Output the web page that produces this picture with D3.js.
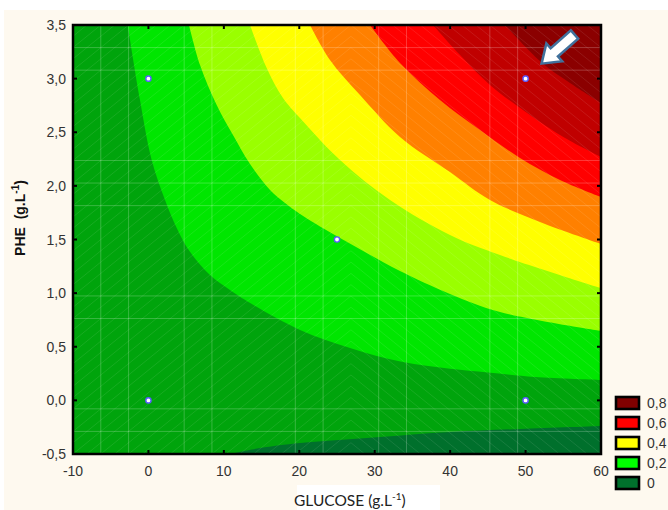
<!DOCTYPE html>
<html><head><meta charset="utf-8">
<script src="https://cdn.jsdelivr.net/npm/d3@7"></script>
<style>body{margin:0;background:#fff}svg{display:block}</style>
</head><body>
<svg id="chart" width="668" height="510"></svg>
<script>
// ---------- data ----------
const xTicks = [-10, 0, 10, 20, 30, 40, 50, 60];
const yTicks = [-0.5, 0, 0.5, 1, 1.5, 2, 2.5, 3, 3.5];
const yTickLabels = ["-0,5","0,0","0,5","1,0","1,5","2,0","2,5","3,0","3,5"];
// band colours from lowest to highest response
const bandColors = ["#00702c","#00a40c","#00e600","#9aff00","#ffff00","#ff8000","#ff0000","#c00000","#8b0000"];
// contour boundaries (GLUCOSE, PHE), lowest first
const b0 = [[10.8,-0.5],[14.8,-0.444],[20.1,-0.397],[30.7,-0.341],[40.0,-0.294],[49.3,-0.266],[60,-0.238]];
const b1 = [[-2.75,3.5],[-1.12,2.80],[0.43,2.242],[2.2,1.869],[3.75,1.608],[5.51,1.385],[8.16,1.168],[10.81,1.028],[13.03,0.927],[20.1,0.657],[26.73,0.489],[33.58,0.359],[39.98,0.294],[45.02,0.261],[51.25,0.219],[60,0.191]];
const b2 = [[5.38,3.5],[6.84,3.127],[9.05,2.754],[11.21,2.474],[13.47,2.204],[16.12,1.962],[18.11,1.84],[20.1,1.738],[24.47,1.551],[28.94,1.374],[33.35,1.206],[39.98,0.992],[46.61,0.824],[60,0.647]];
const b3 = [[13.47,3.5],[15.68,3.099],[17.84,2.819],[20.09,2.633],[25.4,2.241],[32.03,1.868],[39.98,1.542],[46.61,1.355],[60,1.048]];
const b4 = [[21.42,3.5],[24.07,3.174],[28.05,2.847],[33.35,2.456],[39.98,2.129],[45.28,1.868],[51.91,1.663],[60,1.458]];
const b5 = [[29.37,3.5],[33.35,3.146],[38.65,2.801],[43.96,2.521],[49.26,2.26],[54.56,2.055],[60,1.896]];
const b6 = [[37.73,3.5],[41.31,3.22],[45.28,2.941],[50.59,2.661],[55.23,2.446],[60,2.269]];
const b7 = [[47.27,3.5],[52.04,3.155],[55.89,2.959],[60,2.773]];
const boundaries = [b0, b1, b2, b3, b4, b5, b6, b7];
// design points
const pointsX = [0, 0, 25, 50, 50];
const pointsY = [0, 3, 1.5, 3, 0];
// legend
const legendLabels = ["0,8","0,6","0,4","0,2","0"];
const legendColors = ["#800000","#ff0000","#ffff00","#00ff00","#00702c"];

// ---------- layout ----------
const svg = d3.select("#chart");
const L = 73, R = 601, T = 25, B = 454;
const x = d3.scaleLinear().domain([-10, 60]).range([L, R]);
const y = d3.scaleLinear().domain([-0.5, 3.5]).range([B, T]);

svg.append("rect").attr("x",4).attr("y",10).attr("width",664).attr("height",500).attr("fill","#fef9ef");
svg.append("rect").attr("x",297).attr("y",485).attr("width",143).attr("height",25).attr("fill","#ffffff");

const defs = svg.append("defs");
defs.append("clipPath").attr("id","plotClip").append("rect")
  .attr("x",L).attr("y",T).attr("width",R-L).attr("height",B-T);

const plot = svg.append("g").attr("clip-path","url(#plotClip)");
plot.append("rect").attr("x",L).attr("y",T).attr("width",R-L).attr("height",B-T).attr("fill",bandColors[0]);

const lineGen = d3.line().x(d=>x(d[0])).y(d=>y(d[1])).curve(d3.curveCatmullRom.alpha(0.5));
boundaries.forEach((bd,i)=>{
  let p = lineGen(bd);
  p += `L${x(60)},${y(3.5)}`;
  if (bd[0][1] === -0.5) p += `L${x(-10)},${y(3.5)}L${x(-10)},${y(-0.5)}`;
  p += "Z";
  plot.append("path").attr("d",p).attr("fill",bandColors[i+1]);
});

// faint triangulation hatch
const W = R-L, H = B-T, cw = W/38, M = L + 20*cw;
defs.append("clipPath").attr("id","leftClip").append("rect").attr("x",L).attr("y",T).attr("width",M-L).attr("height",H);
defs.append("clipPath").attr("id","rightClip").append("rect").attr("x",M).attr("y",T).attr("width",R-M).attr("height",H);
const hatchL = plot.append("g").attr("clip-path","url(#leftClip)");
const hatchR = plot.append("g").attr("clip-path","url(#rightClip)");
for (let i=-40;i<=40;i++){
  const x0 = L + i*cw;
  hatchL.append("line").attr("x1",x0).attr("y1",B).attr("x2",x0+W).attr("y2",T);
  hatchR.append("line").attr("x1",2*M-x0).attr("y1",B).attr("x2",2*M-x0-W).attr("y2",T);
}
plot.selectAll("line").attr("stroke","#ffffff").attr("stroke-opacity",0.13).attr("stroke-width",0.7);

// faint grid lines
const gx = [1,2,4,5,8,9,11,12,15,16].map(k=>-10+k*70/19);
const gy = [1,2,6,7,8,12,13,17,18].map(k=>3.5-k*4/19);
const grid = plot.append("g").attr("stroke","#ffffff").attr("stroke-opacity",0.22).attr("stroke-width",1);
gx.forEach(v=>grid.append("line").attr("x1",x(v)).attr("x2",x(v)).attr("y1",T).attr("y2",B));
gy.forEach(v=>grid.append("line").attr("y1",y(v)).attr("y2",y(v)).attr("x1",L).attr("x2",R));

// design points
plot.selectAll("circle.pt").data(pointsX.map((v,i)=>[v,pointsY[i]])).enter().append("circle")
  .attr("cx",d=>x(d[0])).attr("cy",d=>y(d[1])).attr("r",2.6)
  .attr("fill","#ffffff").attr("stroke","#5a5aff").attr("stroke-width",1.4);

// arrow annotation pointing at (50, 3.0)
const tipX = x(50)+16, tipY = y(3.0)-15;
svg.append("path")
  .attr("d","M0,0L-17,-12L-17,-5.5L-44,-5.5L-44,5.5L-17,5.5L-17,12Z")
  .attr("transform",`translate(${tipX},${tipY}) rotate(138.5)`)
  .attr("fill","#ffffff").attr("stroke","#41719c").attr("stroke-width",2.5).attr("stroke-linejoin","miter");

// frame
svg.append("rect").attr("x",L).attr("y",T).attr("width",R-L).attr("height",B-T)
  .attr("fill","none").attr("stroke","#000").attr("stroke-width",2.5);

// ticks (inward, on all sides)
const tk = svg.append("g").attr("stroke","#000").attr("stroke-width",2);
xTicks.forEach(v=>{
  tk.append("line").attr("x1",x(v)).attr("x2",x(v)).attr("y1",B).attr("y2",B-4);
  tk.append("line").attr("x1",x(v)).attr("x2",x(v)).attr("y1",T).attr("y2",T+4);
});
yTicks.forEach(v=>{
  tk.append("line").attr("y1",y(v)).attr("y2",y(v)).attr("x1",L).attr("x2",L+4);
  tk.append("line").attr("y1",y(v)).attr("y2",y(v)).attr("x1",R).attr("x2",R-4);
});

const font = "'Liberation Sans', Arial, sans-serif";
svg.append("g").selectAll("text").data(xTicks).enter().append("text")
  .attr("x",d=>x(d)).attr("y",476).attr("text-anchor","middle")
  .attr("font-family",font).attr("font-size",14).attr("fill","#333").text(d=>d);
svg.append("g").selectAll("text").data(yTicks).enter().append("text")
  .attr("x",66).attr("y",d=>y(d)+5).attr("text-anchor","end")
  .attr("font-family",font).attr("font-size",14).attr("fill","#333").text((d,i)=>yTickLabels[i]);

// axis titles
const xt = svg.append("text").attr("x",294).attr("y",506)
  .attr("font-family","Lato, 'Open Sans', sans-serif").attr("font-size",15.5).attr("fill","#222");
xt.append("tspan").text("GLUCOSE (g.L");
xt.append("tspan").attr("dy",-6).attr("font-size",10).text("-1");
xt.append("tspan").attr("dy",6).text(")");

const yt = svg.append("text").attr("transform","translate(25,218) rotate(-90)").attr("text-anchor","middle")
  .attr("font-family",font).attr("font-size",14).attr("font-weight","bold").attr("fill","#111");
yt.append("tspan").text("PHE\u00a0\u00a0(g.L");
yt.append("tspan").attr("dy",-6).attr("font-size",10).text("-1");
yt.append("tspan").attr("dy",6).text(")");

// legend
const lg = svg.append("g");
legendLabels.forEach((lab,i)=>{
  const yy = 397 + i*20;
  lg.append("rect").attr("x",616).attr("y",yy).attr("width",23).attr("height",12)
    .attr("fill",legendColors[i]).attr("stroke","#000").attr("stroke-width",2.6);
  lg.append("text").attr("x",647).attr("y",yy+11).attr("font-family",font).attr("font-size",14)
    .attr("fill","#333").text(lab);
});
</script>
</body></html>
